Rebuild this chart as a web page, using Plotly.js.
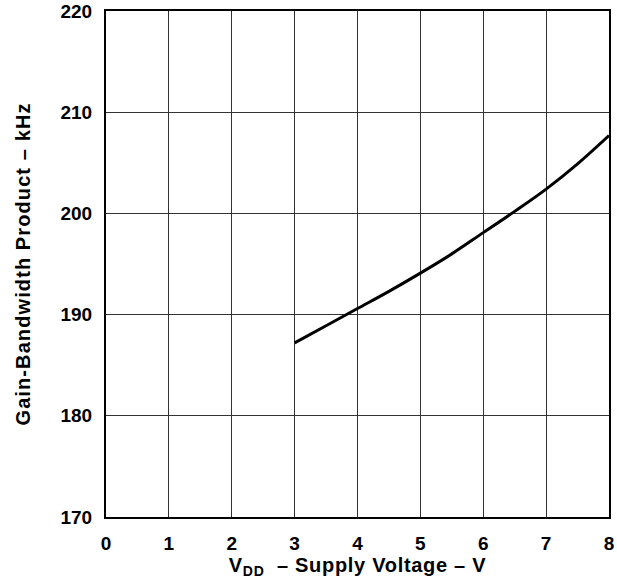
<!DOCTYPE html>
<html>
<head>
<meta charset="utf-8">
<script src="https://cdn.plot.ly/plotly-3.0.1.min.js"></script>
<style>
html,body{margin:0;padding:0;background:#fff;}
#chart{width:617px;height:580px;}
.g-ytitle text{letter-spacing:1.1px;}
.g-xtitle text{letter-spacing:0.7px;}
</style>
</head>
<body>
<div id="chart"></div>
<script>
const supplyVoltage = [3, 3.5, 4, 4.5, 5, 5.5, 6, 6.5, 7, 7.5, 8];
const gainBandwidth = [187.2, 188.9, 190.6, 192.3, 194.1, 196.0, 198.1, 200.2, 202.4, 204.9, 207.7];
const xTicks = [0, 1, 2, 3, 4, 5, 6, 7, 8];
const yTicks = [170, 180, 190, 200, 210, 220];

const fontFam = 'Liberation Sans, Arial, sans-serif';
const data = [{
  x: supplyVoltage,
  y: gainBandwidth,
  type: 'scatter',
  mode: 'lines',
  line: {color: '#000', width: 3, shape: 'spline'},
  hoverinfo: 'skip'
}];
const layout = {
  width: 617, height: 580,
  margin: {l: 106, r: 8, t: 11, b: 63},
  paper_bgcolor: '#fff', plot_bgcolor: '#fff',
  showlegend: false,
  font: {family: fontFam, color: '#000'},
  xaxis: {
    range: [0, 8], tickvals: xTicks, ticktext: xTicks.map(String),
    showgrid: true, gridcolor: '#333', gridwidth: 1,
    showline: true, linecolor: '#000', linewidth: 2, mirror: true,
    zeroline: false, ticks: '', ticklen: 0, ticklabelstandoff: 8,
    tickfont: {family: fontFam, size: 19, weight: 'bold', color: '#000'},
    title: {text: 'V<sub>DD</sub>  – Supply Voltage – V', font: {family: fontFam, size: 20, weight: 'bold', color: '#000'}, standoff: 5}
  },
  yaxis: {
    range: [170, 220], tickvals: yTicks, ticktext: yTicks.map(String),
    showgrid: true, gridcolor: '#333', gridwidth: 1,
    showline: true, linecolor: '#000', linewidth: 2, mirror: true,
    zeroline: false, ticks: '', ticklen: 0, ticklabelstandoff: 8,
    tickfont: {family: fontFam, size: 19, weight: 'bold', color: '#000'},
    title: {text: 'Gain-Bandwidth Product – kHz', font: {family: fontFam, size: 20, weight: 'bold', color: '#000'}, standoff: 24}
  }
};
Plotly.newPlot('chart', data, layout, {staticPlot: true, displayModeBar: false});
</script>
</body>
</html>
